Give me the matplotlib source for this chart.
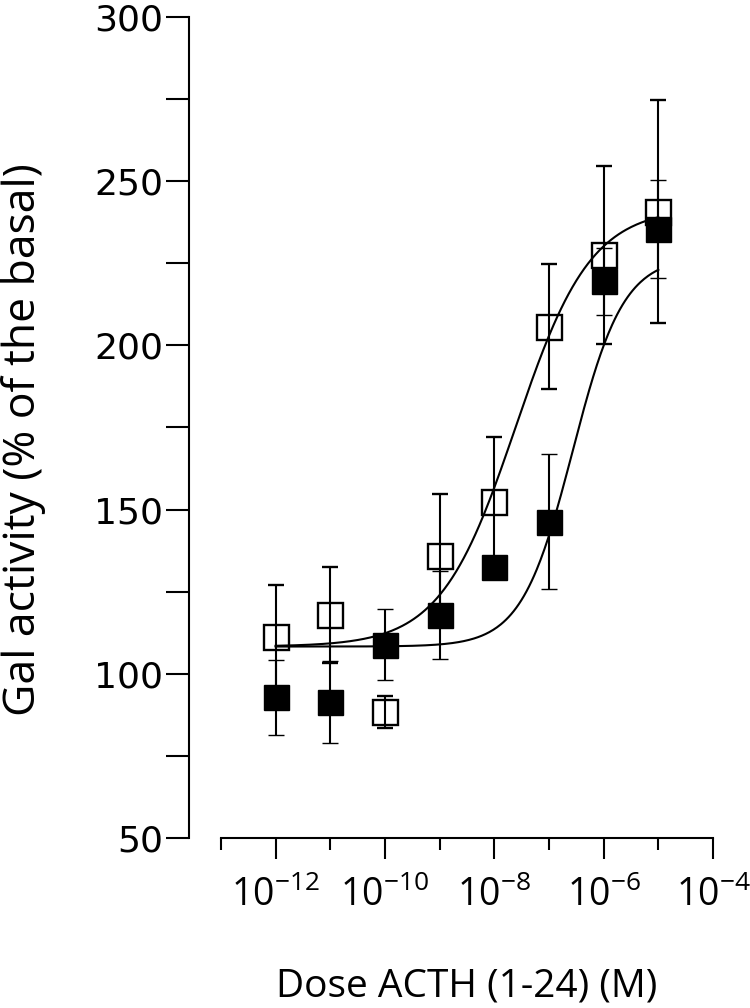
import numpy as np
import matplotlib
matplotlib.use("Agg")
import matplotlib.pyplot as plt
from matplotlib.ticker import FixedLocator, FixedFormatter, NullFormatter

# doses (M)
dose = [1e-12, 1e-11, 1e-10, 1e-9, 1e-8, 1e-7, 1e-6, 1e-5]

# open squares
open_mean = [111.3, 117.9, 88.4, 135.9, 152.4, 205.7, 227.5, 240.7]
open_err = [15.8, 14.7, 4.9, 19.0, 19.6, 19.0, 27.0, 34.0]

# filled squares
filled_mean = [92.8, 91.3, 108.8, 117.9, 132.6, 146.3, 219.6, 235.5]
filled_err = [11.3, 12.5, 10.8, 13.5, 3.0, 20.6, 10.2, 15.0]

# sigmoid fits: bottom, top, log EC50, hill slope
open_fit = [108.3, 242.0, -7.61, 0.63]
filled_fit = [108.3, 227.0, -6.57, 0.93]

x_major = [1e-12, 1e-10, 1e-8, 1e-6, 1e-4]
x_labels = ["10$^{-12}$", "10$^{-10}$", "10$^{-8}$", "10$^{-6}$", "10$^{-4}$"]
x_minor = [1e-13, 1e-11, 1e-9, 1e-7, 1e-5]
y_major = [50, 100, 150, 200, 250, 300]
y_minor = [75, 125, 175, 225, 275]


def sigmoid(logx, p):
    bottom, top, logec, hill = p
    return bottom + (top - bottom) / (1 + 10 ** ((logec - logx) * hill))


plt.rcParams["font.family"] = ["Open Sans", "DejaVu Sans"]
plt.rcParams["mathtext.fontset"] = "custom"
plt.rcParams["mathtext.rm"] = "Open Sans"
plt.rcParams["mathtext.it"] = "Open Sans"
plt.rcParams["mathtext.default"] = "regular"

fig = plt.figure(figsize=(7.5, 10.08), dpi=100)
ax = fig.add_axes([189 / 750, 170 / 1008, 524 / 750, 821 / 1008])

logx = np.linspace(-12, -5, 300)
ax.plot(10 ** logx, sigmoid(logx, open_fit), color="black", lw=1.5, zorder=2)
ax.plot(10 ** logx, sigmoid(logx, filled_fit), color="black", lw=1.5, zorder=2)

ax.errorbar(dose, open_mean, yerr=open_err, fmt="s", ms=18, mfc="none", mec="black",
            mew=1.7, ecolor="black", elinewidth=1.5, capsize=6, capthick=1.5, zorder=3)
ax.errorbar(dose, filled_mean, yerr=filled_err, fmt="s", ms=18, mfc="black", mec="black",
            mew=1.0, ecolor="black", elinewidth=1.5, capsize=6, capthick=1.5, zorder=4)

ax.set_xscale("log")
ax.set_xlim(10 ** -13.585, 1e-4)
ax.set_ylim(50, 300)

ax.xaxis.set_major_locator(FixedLocator(x_major))
ax.xaxis.set_minor_locator(FixedLocator(x_minor))
ax.xaxis.set_major_formatter(FixedFormatter(x_labels))
ax.xaxis.set_minor_formatter(NullFormatter())
ax.yaxis.set_major_locator(FixedLocator(y_major))
ax.yaxis.set_minor_locator(FixedLocator(y_minor))

ax.spines["top"].set_visible(False)
ax.spines["right"].set_visible(False)
ax.spines["left"].set_bounds(50, 300)
ax.spines["bottom"].set_bounds(1e-13, 1e-4)
for s in ["left", "bottom"]:
    ax.spines[s].set_linewidth(1.5)

ax.tick_params(axis="x", which="major", direction="out", length=15, width=1.5, labelsize=27, pad=13)
ax.tick_params(axis="x", which="minor", direction="out", length=8.5, width=1.5)
ax.tick_params(axis="y", which="both", direction="out", length=16.5, width=1.5, pad=2)
for lab in ax.get_yticklabels():
    lab.set_fontfamily("DejaVu Sans")
    lab.set_fontsize(26)

ax.set_xlabel("Dose ACTH (1-24) (M)", fontsize=28)
ax.xaxis.set_label_coords(0.5305, -0.158)
ax.set_ylabel("Gal activity (% of the basal)", fontsize=32)
ax.yaxis.set_label_coords(-0.272, 0.485)

fig.savefig("out.png", dpi=100)
